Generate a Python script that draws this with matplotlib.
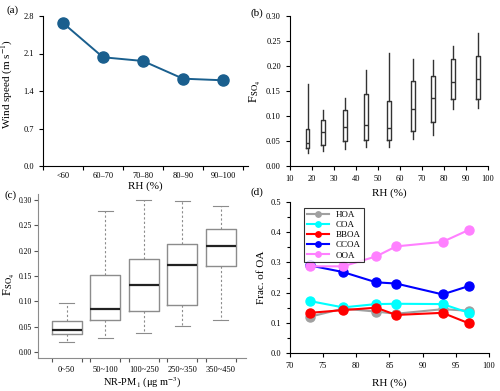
import matplotlib
matplotlib.use('Agg')
import matplotlib.pyplot as plt
from matplotlib.ticker import MultipleLocator

plt.rcParams['font.family'] = ['Liberation Serif', 'DejaVu Serif']
plt.rcParams['mathtext.fontset'] = 'stix'
plt.rcParams['xtick.direction'] = 'out'
plt.rcParams['ytick.direction'] = 'out'

# (a) wind speed by RH bin
rh_bins = ['<60', '60\u201370', '70\u201380', '80\u201390', '90\u2013100']
wind_speed = [2.67, 2.03, 1.96, 1.63, 1.60]

# (b) F_SO4 box stats vs RH: low, q1, median, q3, high
rh_pos = [18, 25, 35, 44.5, 55, 66, 75, 84, 95.5]
b_low = [0.026, 0.030, 0.034, 0.038, 0.039, 0.054, 0.063, 0.114, 0.117]
b_q1 = [0.037, 0.043, 0.050, 0.053, 0.053, 0.070, 0.089, 0.134, 0.134]
b_med = [0.047, 0.068, 0.079, 0.083, 0.077, 0.114, 0.137, 0.169, 0.174]
b_q3 = [0.075, 0.093, 0.113, 0.145, 0.131, 0.170, 0.181, 0.215, 0.221]
b_high = [0.165, 0.113, 0.137, 0.193, 0.226, 0.215, 0.213, 0.240, 0.267]

# (c) F_SO4 box stats vs NR-PM1
pm_bins = ['0~50', '50~100', '100~250', '250~350', '350~450']
c_low = [0.020, 0.028, 0.037, 0.051, 0.063]
c_q1 = [0.035, 0.064, 0.081, 0.092, 0.170]
c_med = [0.044, 0.084, 0.133, 0.172, 0.209]
c_q3 = [0.062, 0.152, 0.183, 0.214, 0.243]
c_high = [0.097, 0.278, 0.300, 0.298, 0.289]

# (d) fraction of OA factors vs RH
rh_d = [73, 78, 83, 86, 93, 97]
hoa = [0.120, 0.147, 0.137, 0.130, 0.145, 0.140]
coa = [0.172, 0.151, 0.162, 0.163, 0.162, 0.133]
bboa = [0.133, 0.142, 0.150, 0.126, 0.133, 0.098]
ccoa = [0.290, 0.268, 0.234, 0.230, 0.194, 0.222]
ooa = [0.287, 0.287, 0.320, 0.353, 0.368, 0.408]

W, H = 500, 391


def add_ax(fig, l, r, t, b):
    return fig.add_axes([l / W, 1 - b / H, (r - l) / W, (b - t) / H])


def stats(low, q1, med, q3, high):
    return [dict(whislo=a, q1=b, med=c, q3=d, whishi=e, fliers=[])
            for a, b, c, d, e in zip(low, q1, med, q3, high)]


fig = plt.figure(figsize=(5, 3.91), dpi=100)
tick_fs = 6
lab_fs = 8

# ---- (a)
ax1 = add_ax(fig, 43, 248, 16, 166)
x = list(range(len(rh_bins)))
ax1.plot(x, wind_speed, color='#1a5f8e', lw=1.4, marker='o', ms=8)
ax1.set_xlim(-0.5, 4.625)
ax1.set_ylim(0, 2.8)
ax1.set_yticks([0.0, 0.7, 1.4, 2.1, 2.8])
ax1.set_xticks([i - 0.5 for i in range(6)])
ax1.set_xticklabels([])
ax1.set_xticks(x, minor=True)
ax1.set_xticklabels(rh_bins, minor=True)
ax1.set_ylabel('Wind speed (m s$^{-1}$)', fontsize=lab_fs)
ax1.yaxis.set_label_coords(-0.135, 0.55)
ax1.set_xlabel('RH (%)', fontsize=lab_fs, labelpad=1)

# ---- (b)
ax2 = add_ax(fig, 290, 488, 16, 166)
ax2.bxp(stats(b_low, b_q1, b_med, b_q3, b_high), positions=rh_pos, widths=1.6,
        showcaps=False, manage_ticks=False,
        boxprops=dict(color='#333333', lw=1.0),
        medianprops=dict(color='#333333', lw=1.0),
        whiskerprops=dict(color='#333333', lw=1.0))
ax2.set_xlim(10, 100)
ax2.set_ylim(0, 0.30)
ax2.set_xticks(range(10, 101, 10))
ax2.set_yticks([0, 0.05, 0.10, 0.15, 0.20, 0.25, 0.30])
ax2.yaxis.set_major_formatter(plt.FormatStrFormatter('%.2f'))
ax2.set_ylabel('F$_{\\mathrm{SO_4}}$', fontsize=lab_fs + 1)
ax2.yaxis.set_label_coords(-0.135, 0.5)
ax2.set_xlabel('RH (%)', fontsize=lab_fs, labelpad=4)

# ---- (c)
ax3 = add_ax(fig, 38, 246, 194, 358)
xc = list(range(len(pm_bins)))
grey = '#8c8c8c'
ax3.bxp(stats(c_low, c_q1, c_med, c_q3, c_high), positions=xc, widths=0.78,
        manage_ticks=False,
        boxprops=dict(color=grey, lw=1.0),
        medianprops=dict(color='#222222', lw=1.6),
        whiskerprops=dict(color=grey, lw=0.8, linestyle=(0, (2, 2))),
        capprops=dict(color=grey, lw=0.8), capwidths=0.39)
ax3.set_xlim(-0.74, 4.65)
ax3.set_ylim(-0.012, 0.312)
ax3.set_yticks([0, 0.05, 0.10, 0.15, 0.20, 0.25, 0.30])
ax3.yaxis.set_major_formatter(plt.FormatStrFormatter('%.2f'))
edges = []
for i in xc:
    edges += [i - 0.39, i + 0.39]
ax3.set_xticks(edges)
ax3.set_xticklabels([])
ax3.set_xticks(xc, minor=True)
ax3.set_xticklabels(pm_bins, minor=True)
ax3.set_ylabel('F$_{\\mathrm{SO_4}}$', fontsize=lab_fs + 1)
ax3.yaxis.set_label_coords(-0.1, 0.45)
ax3.set_xlabel('NR-PM$_1$ ($\\mathregular{\\mu}$g m$^{-3}$)', fontsize=lab_fs - 0.5, labelpad=1)

# ---- (d)
ax4 = add_ax(fig, 290, 489, 202, 353)
series = [('HOA', hoa, '#a0a0a0'), ('COA', coa, '#00ffff'), ('BBOA', bboa, '#ff0000'),
          ('CCOA', ccoa, '#0000ff'), ('OOA', ooa, '#ff80ff')]
for name, vals, col in series:
    ax4.plot(rh_d, vals, color=col, lw=1.5, marker='o', ms=6.5, label=name)
ax4.set_xlim(70, 100)
ax4.set_ylim(0, 0.5)
ax4.xaxis.set_major_locator(MultipleLocator(5))
ax4.yaxis.set_major_locator(MultipleLocator(0.1))
ax4.yaxis.set_minor_locator(MultipleLocator(0.05))
ax4.xaxis.set_major_formatter(plt.FormatStrFormatter('%d'))
ax4.set_ylabel('Frac. of OA', fontsize=lab_fs)
ax4.yaxis.set_label_coords(-0.12, 0.5)
ax4.set_xlabel('RH (%)', fontsize=lab_fs, labelpad=6)
leg = ax4.legend(loc='upper left', bbox_to_anchor=(0.05, 0.99), fontsize=6.5,
                 frameon=True, fancybox=False, edgecolor='black', handlelength=2.4,
                 markerscale=0.6, labelspacing=0.2, borderpad=0.3)
leg.get_frame().set_linewidth(0.8)

for ax in [ax1, ax2, ax3, ax4]:
    ax.spines['top'].set_visible(False)
    ax.spines['right'].set_visible(False)
    ax.tick_params(which='both', labelsize=tick_fs, width=0.8)
    ax.tick_params(which='major', length=3)
    ax.tick_params(which='minor', length=2)

# restyle panel (a)/(c) category labels after the shared settings
ax1.tick_params(axis='x', which='minor', length=0, pad=4)
ax3.tick_params(axis='x', which='minor', length=0, pad=6)
ax3.tick_params(axis='y', pad=1.5, labelsize=5.5)
ax3.tick_params(which='both', colors='#555555', labelcolor='black')
for s in ['left', 'bottom']:
    ax3.spines[s].set_color(grey)

fig.text(13 / W, 1 - 10 / H, '(a)', fontsize=lab_fs, ha='center', va='center')
fig.text(257 / W, 1 - 13 / H, '(b)', fontsize=lab_fs, ha='center', va='center')
fig.text(11 / W, 1 - 195 / H, '(c)', fontsize=lab_fs, ha='center', va='center')
fig.text(257 / W, 1 - 192 / H, '(d)', fontsize=lab_fs, ha='center', va='center')

fig.savefig('out.png', dpi=100)
